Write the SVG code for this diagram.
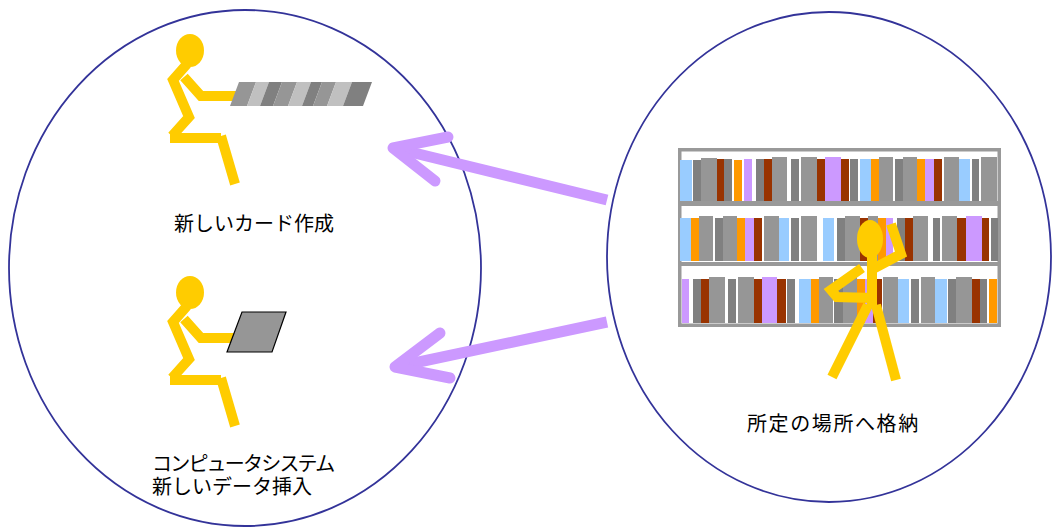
<svg xmlns="http://www.w3.org/2000/svg" xmlns:xlink="http://www.w3.org/1999/xlink" width="1053" height="531" viewBox="0 0 1053 531">
  <style>
    .ring { fill: none; stroke: #333399; stroke-width: 1.8; }
    .limb { fill: none; stroke: #FFCC00; stroke-width: 10; stroke-linejoin: miter; stroke-linecap: butt; }
    .skin { fill: #FFCC00; }
    .shaft { fill: none; stroke: #CC99FF; stroke-width: 11; stroke-linecap: butt; }
    .head { fill: none; stroke: #CC99FF; stroke-width: 11; stroke-linecap: round; stroke-linejoin: round; }
    .label { font-family: "Noto Sans CJK JP", "Noto Sans", sans-serif; font-size: 20px; fill: #000; }
    .frame { fill: #fff; stroke: #999999; stroke-width: 3.5; }
    .board { fill: #999999; }
    .b { fill: #99CCFF; }
    .d { fill: #808080; }
    .g { fill: #969696; }
    .r { fill: #993300; }
    .o { fill: #FF9900; }
    .l { fill: #CC99FF; }
    .k1 { fill: #969696; }
    .k2 { fill: #C0C0C0; }
    .k3 { fill: #808080; }
  </style>
  <defs>
    <!-- seated stick figure, drawn for the upper position -->
    <g id="seated">
      <ellipse class="skin" cx="190" cy="50.5" rx="14" ry="16.5"/>
      <polyline class="limb" points="187,64 173,80 189,117 172,136"/>
      <polyline class="limb" points="170,138 221,138"/>
      <polyline class="limb" points="221,136 235,184"/>
      <polyline class="limb" points="184,77 201,96 236,96"/>
    </g>
  </defs>

  <rect width="1053" height="531" fill="#fff"/>

  <!-- left node: card making and data entry -->
  <g id="node-create">
    <ellipse class="ring" cx="245" cy="268" rx="236" ry="258"/>
    <g id="figure-keyboard">
      <use xlink:href="#seated"/>
      <polygon class="k1" points="230,106 247,106 256,82 239,82"/>
      <polygon class="k2" points="247,106 260,106 269,82 256,82"/>
      <polygon class="k3" points="260,106 273,106 282,82 269,82"/>
      <polygon class="k1" points="273,106 288,106 297,82 282,82"/>
      <polygon class="k2" points="288,106 302,106 311,82 297,82"/>
      <polygon class="k3" points="302,106 313,106 322,82 311,82"/>
      <polygon class="k1" points="313,106 327,106 336,82 322,82"/>
      <polygon class="k2" points="327,106 343,106 352,82 336,82"/>
      <polygon class="k3" points="343,106 363,106 372,82 352,82"/>
    </g>
    <text class="label" x="174" y="231">新しいカード作成</text>
    <g id="figure-tablet">
      <use xlink:href="#seated" transform="translate(0,242)"/>
      <polygon points="242,312 286,312 272,352 227,352" fill="#969696" stroke="#000" stroke-width="1.2"/>
    </g>
    <text class="label"><tspan x="152" y="471" letter-spacing="-1.8">コンピュータシステム</tspan><tspan x="152" y="494">新しいデータ挿入</tspan></text>
  </g>

  <!-- right node: filing cards on the shelf -->
  <g id="node-file">
    <ellipse class="ring" cx="829" cy="257" rx="222" ry="245"/>
    <g id="bookshelf">
      <rect class="frame" x="679.75" y="149.75" width="319.5" height="175.5"/>
      <!-- top shelf -->
      <rect class="b" x="680" y="160" width="12" height="41"/>
      <rect class="d" x="693" y="160" width="8" height="41"/>
      <rect class="g" x="701" y="158" width="16" height="43"/>
      <rect class="r" x="717" y="159" width="7" height="42"/>
      <rect class="d" x="724" y="159" width="8" height="42"/>
      <rect class="o" x="734" y="160" width="8" height="41"/>
      <rect class="l" x="744" y="159" width="8" height="42"/>
      <rect class="d" x="756" y="159" width="8" height="42"/>
      <rect class="r" x="764" y="159" width="8" height="42"/>
      <rect class="g" x="772" y="157" width="15" height="44"/>
      <rect class="d" x="791" y="159" width="8" height="42"/>
      <rect class="g" x="801" y="157" width="16" height="44"/>
      <rect class="r" x="817" y="159" width="8" height="42"/>
      <rect class="l" x="825" y="157" width="16" height="44"/>
      <rect class="r" x="841" y="159" width="8" height="42"/>
      <rect class="d" x="850" y="159" width="8" height="42"/>
      <rect class="b" x="860" y="159" width="11" height="42"/>
      <rect class="o" x="871" y="159" width="8" height="42"/>
      <rect class="g" x="879" y="157" width="14" height="44"/>
      <rect class="d" x="895" y="159" width="8" height="42"/>
      <rect class="g" x="903" y="157" width="14" height="44"/>
      <rect class="o" x="917" y="159" width="8" height="42"/>
      <rect class="l" x="925" y="159" width="9" height="42"/>
      <rect class="r" x="934" y="159" width="8" height="42"/>
      <rect class="g" x="944" y="157" width="15" height="44"/>
      <rect class="b" x="959" y="159" width="11" height="42"/>
      <rect class="d" x="972" y="159" width="7" height="42"/>
      <rect class="g" x="981" y="157" width="16" height="44"/>
      <rect class="board" x="680" y="201" width="319" height="5"/>
      <!-- middle shelf -->
      <rect class="b" x="680" y="218" width="11" height="43"/>
      <rect class="o" x="691" y="218" width="8" height="43"/>
      <rect class="g" x="699" y="216" width="14" height="45"/>
      <rect class="d" x="715" y="218" width="8" height="43"/>
      <rect class="g" x="723" y="216" width="14" height="45"/>
      <rect class="o" x="737" y="218" width="8" height="43"/>
      <rect class="l" x="745" y="218" width="9" height="43"/>
      <rect class="r" x="754" y="218" width="8" height="43"/>
      <rect class="g" x="764" y="216" width="15" height="45"/>
      <rect class="b" x="779" y="218" width="10" height="43"/>
      <rect class="d" x="791" y="218" width="8" height="43"/>
      <rect class="g" x="801" y="216" width="16" height="45"/>
      <rect class="b" x="823" y="218" width="11" height="43"/>
      <rect class="d" x="837" y="218" width="8" height="43"/>
      <rect class="g" x="845" y="216" width="15" height="45"/>
      <rect class="r" x="860" y="218" width="8" height="43"/>
      <rect class="g" x="868" y="216" width="10" height="45"/>
      <rect class="o" x="878" y="218" width="8" height="43"/>
      <rect class="l" x="886" y="218" width="7" height="43"/>
      <rect class="d" x="897" y="218" width="8" height="43"/>
      <rect class="r" x="905" y="218" width="8" height="43"/>
      <rect class="g" x="913" y="216" width="15" height="45"/>
      <rect class="d" x="933" y="218" width="7" height="43"/>
      <rect class="g" x="942" y="216" width="15" height="45"/>
      <rect class="r" x="957" y="218" width="9" height="43"/>
      <rect class="l" x="966" y="216" width="16" height="45"/>
      <rect class="r" x="982" y="218" width="7" height="43"/>
      <rect class="d" x="991" y="218" width="7" height="43"/>
      <rect class="board" x="680" y="262" width="319" height="4"/>
      <!-- bottom shelf -->
      <rect class="l" x="682" y="279" width="7" height="44"/>
      <rect class="d" x="693" y="279" width="8" height="44"/>
      <rect class="r" x="701" y="279" width="8" height="44"/>
      <rect class="g" x="709" y="277" width="16" height="46"/>
      <rect class="d" x="728" y="279" width="8" height="44"/>
      <rect class="g" x="738" y="277" width="16" height="46"/>
      <rect class="r" x="754" y="279" width="8" height="44"/>
      <rect class="l" x="762" y="277" width="15" height="46"/>
      <rect class="r" x="777" y="279" width="9" height="44"/>
      <rect class="d" x="787" y="279" width="8" height="44"/>
      <rect class="b" x="799" y="279" width="12" height="44"/>
      <rect class="o" x="811" y="279" width="8" height="44"/>
      <rect class="g" x="819" y="277" width="14" height="46"/>
      <rect class="d" x="834" y="279" width="9" height="44"/>
      <rect class="g" x="843" y="277" width="14" height="46"/>
      <rect class="o" x="857" y="279" width="8" height="44"/>
      <rect class="l" x="865" y="279" width="8" height="44"/>
      <rect class="r" x="873" y="279" width="9" height="44"/>
      <rect class="g" x="883" y="277" width="15" height="46"/>
      <rect class="b" x="898" y="279" width="11" height="44"/>
      <rect class="d" x="911" y="279" width="8" height="44"/>
      <rect class="g" x="921" y="277" width="14" height="46"/>
      <rect class="b" x="935" y="279" width="12" height="44"/>
      <rect class="d" x="948" y="279" width="8" height="44"/>
      <rect class="g" x="956" y="277" width="16" height="46"/>
      <rect class="r" x="972" y="279" width="8" height="44"/>
      <rect class="d" x="980" y="279" width="7" height="44"/>
      <rect class="o" x="989" y="279" width="8" height="44"/>
    </g>
    <g id="figure-standing">
      <polyline class="limb" points="872,250 872,308" stroke-width="11"/>
      <polyline class="limb" points="868,305 832,377" stroke-width="11"/>
      <polyline class="limb" points="876,305 896,380" stroke-width="11"/>
      <polyline class="limb" points="862,268 831,290 837,297 873,298" stroke-width="10"/>
      <polyline class="limb" points="869,271 901,254 891,224" stroke-width="11"/>
      <ellipse class="skin" cx="870" cy="239" rx="13" ry="19"/>
    </g>
    <text class="label" x="747" y="431" font-size="21" letter-spacing="1.6">所定の場所へ格納</text>
  </g>

  <!-- connectors: filing feeds both activities -->
  <g id="connectors">
    <line class="shaft" x1="607" y1="200" x2="398" y2="149"/>
    <polyline class="head" points="448,137 393,148 435,181"/>
    <line class="shaft" x1="607" y1="322" x2="400" y2="366"/>
    <polyline class="head" points="440,333 395,367 450,378"/>
  </g>
</svg>
